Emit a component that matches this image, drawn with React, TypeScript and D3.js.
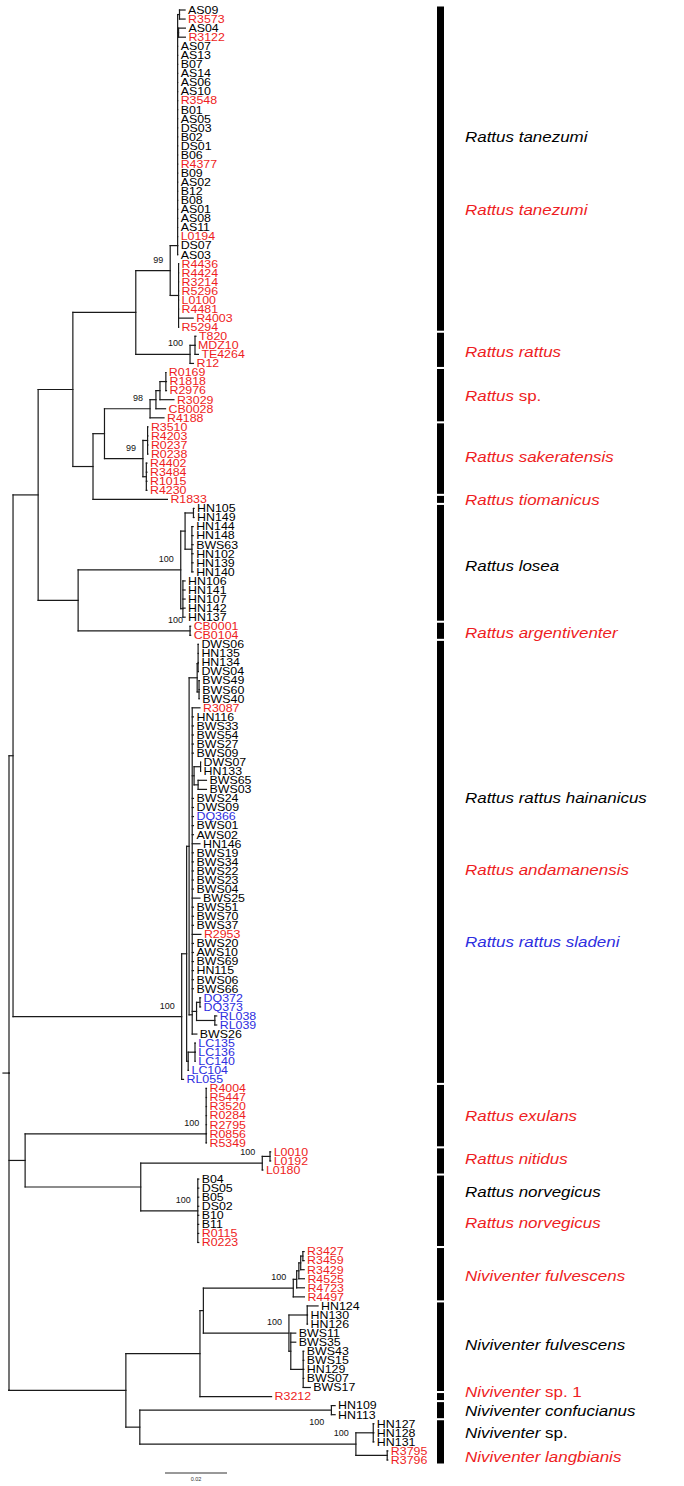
import React from 'react';
import * as d3 from 'd3';

const W = 684;
const H = 1486;

// ---- Tree data (Newick, branch lengths in substitutions/site) ----
// '~' = zero-length ladder (MEGA style), '_' = bootstrap drawn below branch, '=' = mean placement
const TANEZUMI = "((((AS09:0.0018,R3573:0.0018):0.0006,(AS04:0.0022,R3122:0.0022):0.0003,AS07:0,AS13:0,B07:0,AS14:0,AS06:0,AS10:0,R3548:0,B01:0,AS05:0,DS03:0,B02:0,DS01:0,B06:0,R4377:0,B09:0,AS02:0,B12:0,B08:0,AS01:0,AS08:0,AS11:0,L0194:0,DS07:0,AS03:0)~:0.0024,(R4436:0,R4424:0,R3214:0,R5296:0,L0100:0,R4481:0,R4003:0.0047,R5294:0):0.0027)99:0.0111";
const RATTUS = "((T820:0.0003,MDZ10:0,TE4264:0.0011):0.0016,R12:0.0011)100:0.0175";
const SP = "((((R0169:0,R1818:0.0002,R2976:0.0002):0.0019,R3029:0.0045):0.0013,CB0028:0.0031):0.0019,R4188:0.0045)98:0.0147";
const SAKER = "((R3510:0.0001,R4203:0.0001,R0237:0.0001,R0238:0.0001):0.0015,(R4402:0.0002,R3484:0.0002,R1015:0.0002,R4230:0.0002):0.0011)99:0.0124";
const LOSEA = "(((HN105:0.0002,HN149:0.0002):0.0027,(HN144:0.0004,HN148:0.0004,BWS63:0.0004,HN102:0.0004,HN139:0.0004,HN140:0.0004):0.0022):0.0014,(HN106:0.0007,HN141:0.0007,HN107:0.0007,HN142:0.0007,HN137:0.0007)~:0.0007)100:0.0331";
const ARGENT = "(CB0001:0.0002,CB0104:0.0002)100:0.0361";
const HAIN_TOP = "((DWS06:0.0001,HN135:0.0001,HN134:0.0001,DWS04:0.0001)~:0.0003,(BWS49:0.0001,BWS60:0.0001,BWS40:0.0001)~:0.0006):0.0026";
const HAIN_REST = "(R3087:0.0025,HN116:0.0004,BWS33:0.0004,BWS54:0.0004,BWS27:0.0004,BWS09:0.0004,((DWS07:0,HN133:0):0.0021,(BWS65:0.0027,BWS03:0.0027):0.0013):0.0006,BWS24:0.0004,DWS09:0.0004,DQ366:0.0004,BWS01:0.0004,AWS02:0.0004,HN146:0.0025,BWS19:0.0004,BWS34:0.0004,BWS22:0.0004,BWS23:0.0004,BWS04:0.0004,BWS25:0.0025,BWS51:0.0004,BWS70:0.0004,BWS37:0.0004,R2953:0.0028,BWS20:0.0004,AWS10:0.0004,BWS69:0.0004,HN115:0.0004,BWS06:0.0004,BWS66:0.0004,((DQ372:0.0002,DQ373:0.0002):0.0011,(RL038:0.0006,RL039:0.0006):0.0059):0.0014,BWS26:0.0015)~:0.001";
const HAIN_LC = "((LC135:0.0001,LC136:0.0001,LC140:0.0001):0.0022,LC104:0.0001):0.0005";
const EXULANS = "(R4004:0.0001,R5447:0.0001,R3520:0.0001,R0284:0.0001,R2795:0.0001,R0856:0.0001,R5349:0.0001)100~:0.0584";
const NITIDUS = "((L0010:0.0002,L0192:0.0002):0.0025,L0180:0.0002)100:0.0392";
const NORVEG = "(B04:0.0003,DS05:0.0003,B05:0.0003,DS02:0.0003,B10:0.0003,B11:0.0003,R0115:0.0003,R0223:0.0003)100:0.0184";
const NIV_RED = "(((((R3427:0.0004,R3459:0.0004):0.0007,R3429:0.0011):0.0006,R4525:0.0018):0.0007,R4723:0.0025):0.0011,R4497:0.0036)100:0.029";
const NIV_BLACK = "((HN124:0.0035,HN130:0.0001,HN126:0.0001):0.0059,(BWS11:0.0016,BWS35:0.0016,(BWS43:0.0002,BWS15:0.0002,HN129:0.0002,BWS07:0.0002,BWS17:0.0023):0.004):0.0006)100:0.0276";
const CONFUC = "(HN109:0.0012,HN113:0.0012)100_:0.0618";
const NIV_SP_LANG = "((HN127:0.0002,HN128:0.0002,HN131:0.0002):0.0056,(R3795:0.0002,R3796:0.0002):0.0101)100:0.0697";

const N72 = `((${TANEZUMI},${RATTUS}):0.0203,((${SP},${SAKER}):0.0037,R1833:0.024):0.0065):0.0112`;
const N38 = `(${N72},(${LOSEA},${ARGENT}):0.0129):0.0081`;
const HAIN = `(((${HAIN_TOP},${HAIN_REST}):0.0008,${HAIN_LC}):0.0016,RL055:0.0006)100:0.0544`;
const RATTUS_CORE = `(${N38},${HAIN}):0.0013`;
const EXUL_NORV = `(${EXULANS},(${NITIDUS},${NORVEG}):0.0373):0.0052`;
const NIVIVENTER = `((((${NIV_RED},${NIV_BLACK}):0.0011,R3212:0.0231):0.0239,(${CONFUC},${NIV_SP_LANG}):0.0045):0.0377`;
const TREE = `(${RATTUS_CORE},${EXUL_NORV},${NIVIVENTER})=;`;

const RED_PREFIXES = ['R0', 'R1', 'R2', 'R3', 'R4', 'R5', 'L0', 'CB', 'T820', 'MDZ', 'TE4'];
const BLUE_PREFIXES = ['DQ', 'RL', 'LC'];

const BARS: [string, string][] = [
  ['AS09', 'R5294'], ['T820', 'R12'], ['R0169', 'R4188'], ['R3510', 'R4230'], ['R1833', 'R1833'],
  ['HN105', 'HN137'], ['CB0001', 'CB0104'], ['DWS06', 'RL055'], ['R4004', 'R5349'], ['L0010', 'L0180'],
  ['B04', 'R0223'], ['R3427', 'R4497'], ['HN124', 'BWS17'], ['R3212', 'R3212'], ['HN109', 'HN113'], ['HN127', 'R3796'],
];

// row = position in leaf-row units
const SPECIES_ROWS = [14, 22, 37.7, 42.6, 49.3, 54, 61.3, 68.7, 86.9, 94.8, 102.8, 122, 126.7, 130.4, 133.8, 139.6, 147.3, 152.5, 154.6, 157, 159.6];
const SPECIES_ITALIC = ['Rattus tanezumi', 'Rattus tanezumi', 'Rattus rattus', 'Rattus', 'Rattus sakeratensis', 'Rattus tiomanicus', 'Rattus losea', 'Rattus argentiventer', 'Rattus rattus hainanicus', 'Rattus andamanensis', 'Rattus rattus sladeni', 'Rattus exulans', 'Rattus nitidus', 'Rattus norvegicus', 'Rattus norvegicus', 'Niviventer fulvescens', 'Niviventer fulvescens', 'Niviventer', 'Niviventer confucianus', 'Niviventer', 'Niviventer langbianis'];
const SPECIES_PLAIN = ['', '', '', ' sp.', '', '', '', '', '', '', '', '', '', '', '', '', '', ' sp. 1', '', ' sp.', ''];
const SPECIES_COLOR = ['k', 'r', 'r', 'r', 'r', 'r', 'k', 'r', 'k', 'r', 'b', 'r', 'r', 'k', 'r', 'r', 'k', 'r', 'k', 'k', 'r'];

const SCALE_VALUE = 0.02;

const COLORS: Record<string, string> = { k: '#000000', r: '#ee1d23', b: '#2e2ee0' };

type TNode = {
  name: string; len: number; children: TNode[]; boot?: string; ladder?: boolean; below?: boolean; mean?: boolean;
  depth: number; y: number; idx: number;
};

function parseNewick(s: string): TNode {
  let i = 0;
  function node(): TNode {
    const n: TNode = { name: '', len: 0, children: [], depth: 0, y: 0, idx: -1 };
    if (s[i] === '(') {
      i++;
      n.children.push(node());
      while (s[i] === ',') { i++; n.children.push(node()); }
      i++;
    }
    let tok = '';
    while (i < s.length && !',():;'.includes(s[i])) tok += s[i++];
    if (n.children.length) {
      n.ladder = tok.includes('~');
      n.below = tok.includes('_');
      n.mean = tok.includes('=');
      const m = tok.match(/\d+/);
      if (m) n.boot = m[0];
    } else n.name = tok.trim();
    if (s[i] === ':') {
      i++;
      let num = '';
      while (i < s.length && !',();'.includes(s[i])) num += s[i++];
      n.len = parseFloat(num);
    }
    return n;
  }
  return node();
}

function colorOf(name: string) {
  if (BLUE_PREFIXES.some(p => name.startsWith(p))) return COLORS.b;
  if (RED_PREFIXES.some(p => name.startsWith(p))) return COLORS.r;
  return COLORS.k;
}

export default function App() {
  const root = parseNewick(TREE);
  const leaves: TNode[] = [];
  const all: TNode[] = [];
  (function walk(n: TNode, d: number) {
    n.depth = d + n.len;
    all.push(n);
    if (!n.children.length) { n.idx = leaves.length; leaves.push(n); }
    n.children.forEach(c => walk(c, n.depth));
  })(root, 0);

  const x = d3.scaleLinear().domain([0, SCALE_VALUE]).range([9, 71]);
  const y = d3.scaleLinear().domain([0, leaves.length - 1]).range([10, 1460]);

  (function place(n: TNode): number {
    if (!n.children.length) { n.y = y(n.idx); return n.y; }
    const ys = n.children.map(place);
    if (n.ladder) {
      let acc = ys[0];
      for (let k = 1; k < ys.length; k++) acc = (acc + ys[k]) / 2;
      n.y = acc;
    } else if (n.mean) {
      n.y = d3.mean(ys) as number;
    } else {
      n.y = (ys[0] + ys[ys.length - 1]) / 2;
    }
    return n.y;
  })(root);

  const segs: { x1: number; y1: number; x2: number; y2: number }[] = [];
  const parentOf = new Map<TNode, TNode>();
  all.forEach(n => n.children.forEach(c => parentOf.set(c, n)));
  all.forEach(n => {
    if (n.children.length) {
      segs.push({ x1: x(n.depth), y1: n.children[0].y, x2: x(n.depth), y2: n.children[n.children.length - 1].y });
    }
    const p = parentOf.get(n);
    if (p) segs.push({ x1: x(p.depth), y1: n.y, x2: x(n.depth), y2: n.y });
  });
  segs.push({ x1: x(0) - 6, y1: root.y, x2: x(0), y2: root.y });

  const byName = new Map(leaves.map(l => [l.name, l]));
  const barX = 437;
  const barW = 7;
  const scaleX0 = 165;

  return (
    <svg width={W} height={H} style={{ position: 'absolute', left: 0, top: 0, background: '#fff' }}
      fontFamily="Arial, 'Liberation Sans', Helvetica, sans-serif">
      <rect x={0} y={0} width={W} height={H} fill="#fff" />
      <g stroke="#1a1a1a" strokeWidth={1.2} strokeLinecap="square">
        {segs.map((s, k) => <line key={k} x1={s.x1} y1={s.y1} x2={s.x2} y2={s.y2} />)}
      </g>
      <g fontSize={10.6}>
        {leaves.map(l => (
          <text key={l.name} transform={`translate(${x(l.depth) + 3},${l.y}) scale(1.17,1)`} dy="0.36em" fill={colorOf(l.name)}>{l.name}</text>
        ))}
      </g>
      <g fontSize={9} fill="#111">
        {all.filter(n => n.boot).map((n, k) => (
          <text key={k} x={x(n.depth) - 7} y={n.below ? n.y + 15 : n.y - 8} textAnchor="end">{n.boot}</text>
        ))}
      </g>
      <g fill="#000">
        {BARS.map(([a, b], k) => {
          const ya = y(byName.get(a)!.idx) - 3.5;
          const yb = y(byName.get(b)!.idx) + 3.5;
          return <rect key={k} x={barX} y={ya} width={barW} height={yb - ya} />;
        })}
      </g>
      <g fontSize={15}>
        {SPECIES_ROWS.map((r, k) => (
          <text key={k} transform={`translate(465,${y(r)}) scale(1.13,1)`} dy="0.36em" fill={COLORS[SPECIES_COLOR[k]]}>
            <tspan fontStyle="italic">{SPECIES_ITALIC[k]}</tspan>
            {SPECIES_PLAIN[k] ? <tspan>{SPECIES_PLAIN[k]}</tspan> : null}
          </text>
        ))}
      </g>
      <g>
        <line x1={scaleX0} x2={scaleX0 + x(SCALE_VALUE) - x(0)} y1={1473} y2={1473} stroke="#333" strokeWidth={1} />
        <text x={scaleX0 + (x(SCALE_VALUE) - x(0)) / 2} y={1481} fontSize={5.5} textAnchor="middle" fill="#333">{SCALE_VALUE}</text>
      </g>
    </svg>
  );
}
